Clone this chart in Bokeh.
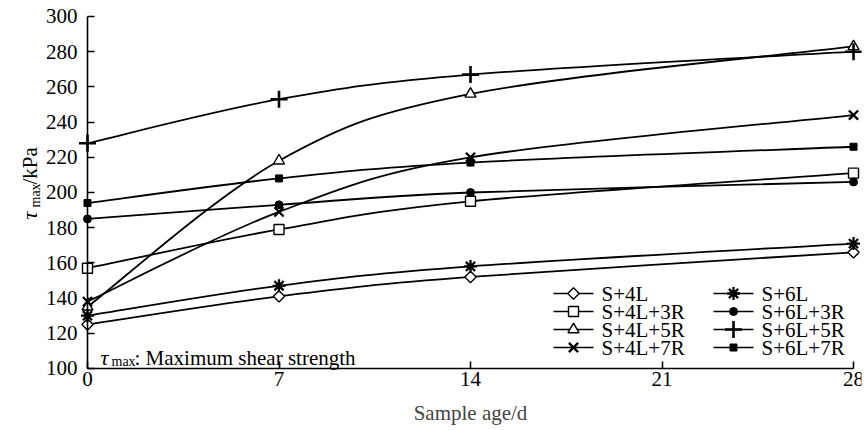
import math
from bokeh.plotting import figure
from bokeh.models import Range1d, FixedTicker, Label, ColumnDataSource
from bokeh.core.properties import value
from bokeh.embed import file_html
from bokeh.resources import INLINE

# ---- data ----
ages = [0, 7, 14, 28]
s_4l = [125, 141, 152, 166]
s_4l_3r = [157, 179, 195, 211]
s_4l_5r = [135, 218, 256, 283]
s_4l_7r = [138, 189, 220, 244]
s_6l = [130, 147, 158, 171]
s_6l_3r = [185, 193, 200, 206]
s_6l_5r = [228, 253, 267, 280]
s_6l_7r = [194, 208, 217, 226]
x_ticks = [0, 7, 14, 21, 28]
y_ticks = [100, 120, 140, 160, 180, 200, 220, 240, 260, 280, 300]
legend_col1 = ["S+4L", "S+4L+3R", "S+4L+5R", "S+4L+7R"]
legend_col2 = ["S+6L", "S+6L+3R", "S+6L+5R", "S+6L+7R"]

series = [
    ("S+4L", s_4l), ("S+4L+3R", s_4l_3r), ("S+4L+5R", s_4l_5r), ("S+4L+7R", s_4l_7r),
    ("S+6L", s_6l), ("S+6L+3R", s_6l_3r), ("S+6L+5R", s_6l_5r), ("S+6L+7R", s_6l_7r),
]

marker_styles = {
    "S+4L": dict(marker="square", size=8, angle=math.pi / 4, fill_color="white", line_width=1.4),
    "S+4L+3R": dict(marker="square", size=10, fill_color="white", line_width=1.4),
    "S+4L+5R": dict(marker="triangle", size=11, fill_color="white", line_width=1.4),
    "S+4L+7R": dict(marker="x", size=13, line_width=2.3),
    "S+6L": dict(marker="asterisk", size=13, line_width=2.3),
    "S+6L+3R": dict(marker="circle", size=8, fill_color="black", line_width=1),
    "S+6L+5R": dict(marker="cross", size=17, line_width=2.6),
    "S+6L+7R": dict(marker="square", size=7, fill_color="black", line_width=1),
}

FONT = "Times New Roman"
FS = "21px"

# canvas / frame geometry (frame covers the whole canvas; axes fixed at x=0, y=100)
W, H = 868, 430
X0, X1 = -3.180, 28.292
Y0, Y1 = 64.77, 309.09
FRAME_W = W - 7


def px2x(px):
    return X0 + px * (X1 - X0) / FRAME_W


def py2y(py):
    return Y0 + (H - py) * (Y1 - Y0) / H


p = figure(width=W, height=H, output_backend="svg", toolbar_location=None,
           x_range=Range1d(X0, X1), y_range=Range1d(Y0, Y1),
           min_border_left=0, min_border_right=7, min_border_top=0, min_border_bottom=0)
p.outline_line_color = None
p.xgrid.visible = False
p.ygrid.visible = False
p.background_fill_color = "white"
p.border_fill_color = "white"

for ax in (p.xaxis[0], p.yaxis[0]):
    ax.axis_line_width = 1.6
    ax.axis_line_color = "black"
    ax.major_tick_line_color = "black"
    ax.major_tick_line_width = 1.6
    ax.major_tick_in = 7
    ax.major_tick_out = 0
    ax.minor_tick_line_color = None
    ax.major_label_text_font = FONT
    ax.major_label_text_font_size = FS
    ax.major_label_text_font_style = "normal"
    ax.major_label_text_color = "black"

p.xaxis.ticker = FixedTicker(ticks=x_ticks)
p.yaxis.ticker = FixedTicker(ticks=y_ticks)
p.xaxis.bounds = (0, 28)
p.yaxis.bounds = (100, 300)
p.yaxis.fixed_location = 0
p.xaxis.fixed_location = 100
p.xaxis.major_label_standoff = 4
p.yaxis.major_label_standoff = 10
p.xaxis.axis_label = "Sample age/d"
p.xaxis.axis_label_text_font = FONT
p.xaxis.axis_label_text_font_size = FS
p.xaxis.axis_label_text_font_style = "normal"
p.xaxis.axis_label_standoff = 11


def bezier_segments(xs, ys):
    n = len(xs)
    segs = dict(x0=[], y0=[], x1=[], y1=[], cx0=[], cy0=[], cx1=[], cy1=[])
    for i in range(n - 1):
        ip = max(i - 1, 0)
        inn = min(i + 2, n - 1)
        segs["x0"].append(xs[i]); segs["y0"].append(ys[i])
        segs["x1"].append(xs[i + 1]); segs["y1"].append(ys[i + 1])
        segs["cx0"].append(xs[i] + (xs[i + 1] - xs[ip]) / 6.0)
        segs["cy0"].append(ys[i] + (ys[i + 1] - ys[ip]) / 6.0)
        segs["cx1"].append(xs[i + 1] - (xs[inn] - xs[i]) / 6.0)
        segs["cy1"].append(ys[i + 1] - (ys[inn] - ys[i]) / 6.0)
    return segs


for name, vals in series:
    src = ColumnDataSource(bezier_segments(ages, vals))
    p.bezier(x0="x0", y0="y0", x1="x1", y1="y1", cx0="cx0", cy0="cy0",
             cx1="cx1", cy1="cy1", source=src, line_color="black", line_width=1.8)
    p.scatter(ages, vals, line_color="black", **marker_styles[name])

# ---- legend (two columns, lower right of the plot area) ----
ROW_Y = [293, 311, 329, 347]
for col_names, lx in ((legend_col1, 553), (legend_col2, 713)):
    for name, ry in zip(col_names, ROW_Y):
        yy = py2y(ry)
        p.line([px2x(lx), px2x(lx + 40)], [yy, yy], line_color="black", line_width=1.6)
        p.scatter([px2x(lx + 20)], [yy], line_color="black", **marker_styles[name])
        p.text([px2x(lx + 48)], [yy], text=[name], text_font=value(FONT),
               text_font_size=FS, text_font_style="normal",
               text_baseline="middle", text_align="left", text_color="black")

# y-axis title: tau_max/kPa (rotated)
lab_common = dict(x_units="screen", y_units="screen", angle=math.pi / 2,
                  text_font=FONT, text_color="black", text_align="left",
                  text_baseline="alphabetic")
p.add_layout(Label(x=29, y=211, text="τ", text_font_size="22px",
                   text_font_style="italic", **lab_common))
p.add_layout(Label(x=35, y=223, text="max", text_font_size="14px",
                   text_font_style="normal", **lab_common))
p.add_layout(Label(x=29, y=246, text="/kPa", text_font_size=FS,
                   text_font_style="normal", **lab_common))

# note inside plot
note_common = dict(x_units="screen", y_units="screen", text_font=FONT,
                   text_color="black", text_align="left", text_baseline="alphabetic")
p.add_layout(Label(x=100, y=73, text="τ", text_font_size="22px",
                   text_font_style="italic", **note_common))
p.add_layout(Label(x=111, y=69, text="max", text_font_size="14px",
                   text_font_style="normal", **note_common))
p.add_layout(Label(x=134, y=73, text=": Maximum shear strength",
                   text_font_size=FS, text_font_style="normal", **note_common))

open("out.html", "w").write(file_html(p, INLINE))
